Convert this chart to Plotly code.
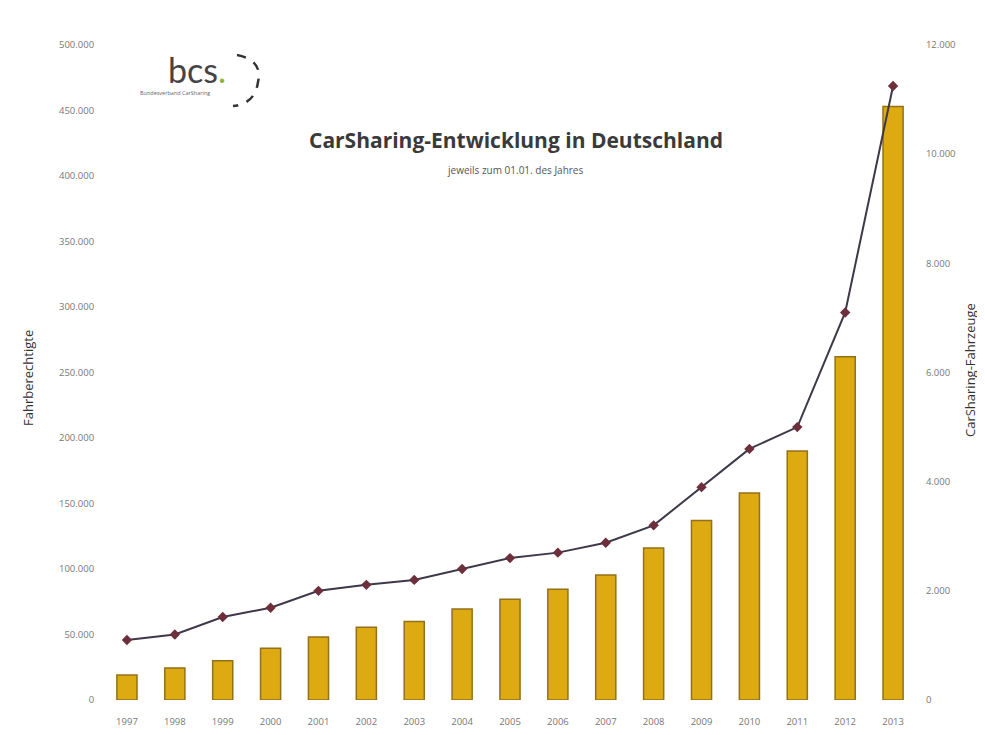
import plotly.graph_objects as go

years = [str(y) for y in range(1997, 2014)]
fahrberechtigte = [19000, 24500, 30000, 39500, 48000, 55500, 60000, 69500, 77000,
                   84500, 95500, 116000, 137000, 158000, 190000, 262000, 453000]
fahrzeuge = [1100, 1200, 1520, 1690, 2000, 2110, 2200, 2400, 2600,
             2700, 2880, 3200, 3900, 4600, 5000, 7100, 11250]

left_ticks = [0, 50000, 100000, 150000, 200000, 250000, 300000, 350000, 400000, 450000, 500000]
right_ticks = [0, 2000, 4000, 6000, 8000, 10000, 12000]


def de(n):
    return f"{n:,}".replace(",", ".")


fig = go.Figure()
fig.add_trace(go.Bar(
    x=years, y=fahrberechtigte, name="Fahrberechtigte",
    marker=dict(color="#DDAA12", line=dict(color="#94701A", width=1.5)),
    width=0.42, yaxis="y",
))
fig.add_trace(go.Scatter(
    x=years, y=fahrzeuge, name="CarSharing-Fahrzeuge", yaxis="y2",
    mode="lines+markers",
    line=dict(color="#3E3848", width=2),
    marker=dict(symbol="diamond", size=8, color="#6E2F3C"),
))

tickfont = dict(family="Open Sans, Liberation Sans, sans-serif", size=9.5, color="#777777")

fig.update_layout(
    width=985, height=735,
    margin=dict(l=95, r=76, t=37, b=43),
    paper_bgcolor="white", plot_bgcolor="white",
    showlegend=False,
    xaxis=dict(type="category", showgrid=False, showline=False,
               ticks="outside", ticklen=13, tickcolor="rgba(0,0,0,0)",
               tickfont=tickfont, range=[-0.5, 16.5], automargin=False),
    yaxis=dict(range=[0, 500000], tickvals=left_ticks,
               ticktext=[de(v) for v in left_ticks], showgrid=False,
               zeroline=False, showline=False, tickfont=tickfont,
               ticks="outside", ticklen=6, tickcolor="rgba(0,0,0,0)", automargin=False),
    yaxis2=dict(range=[0, 12000], tickvals=right_ticks,
                ticktext=[de(v) for v in right_ticks], overlaying="y", side="right",
                showgrid=False, zeroline=False, showline=False, tickfont=tickfont,
                ticks="outside", ticklen=6, tickcolor="rgba(0,0,0,0)", automargin=False),
)

# decorations positioned in screen pixels -> paper coordinates of plot area
PL, PR, PT, PB = 103, 917, 45, 700
def px(xp):
    return (xp - PL) / (PR - PL)
def py(yp):
    return (PB - yp) / (PB - PT)

def ann(text, x, y, size, color, angle=0, family="Open Sans, sans-serif"):
    fig.add_annotation(text=text, x=px(x), y=py(y), xref="paper", yref="paper",
                       showarrow=False, textangle=angle, xanchor="center", yanchor="middle",
                       font=dict(family=family, size=size, color=color))

ann("<b>CarSharing-Entwicklung in Deutschland</b>", 516, 140, 21, "#3a3a3a")
ann("jeweils zum 01.01. des Jahres", 515, 170, 10, "#555555")
ann("bcs<span style='color:#8CB33A'>.</span>", 197, 69, 34, "#444444", family="Lato, sans-serif")
ann("Bundesverband CarSharing", 175, 93, 5.5, "#666666")
ann("Fahrberechtigte", 28, 378, 13, "#333333", angle=-90)
ann("CarSharing-Fahrzeuge", 970, 370, 13, "#333333", angle=-90)

# logo arc
path = (f"M {px(237)},{py(55)} Q {px(263)},{py(60)} {px(258)},{py(82)} "
        f"Q {px(255)},{py(104)} {px(233)},{py(106)}")
fig.add_shape(type="path", path=path, xref="paper", yref="paper",
              line=dict(color="#333333", width=2.5, dash="dash"))

fig.write_html("out.html")
